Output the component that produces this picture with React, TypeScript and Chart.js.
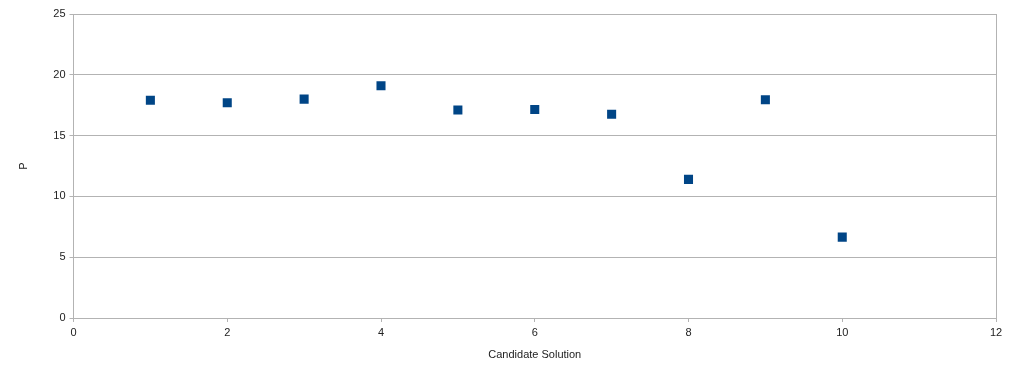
import React, { useEffect, useRef } from 'react';
import { Chart, registerables } from 'chart.js';

Chart.register(...registerables);

const candidates = [1, 2, 3, 4, 5, 6, 7, 8, 9, 10];
const pValues = [17.9, 17.7, 18.0, 19.1, 17.1, 17.15, 16.75, 11.4, 17.95, 6.65];
const xAxisRange = [0, 12];
const xStep = 2;
const yAxisRange = [0, 25];
const yStep = 5;
const xTitle = 'Candidate Solution';
const yTitle = 'P';

const GRID = '#b3b3b3';
const TEXT = '#222222';
const POINT = '#004586';
const FONT = 'Liberation Sans, Arial, sans-serif';

export default function App() {
  const canvasRef = useRef<HTMLCanvasElement | null>(null);

  useEffect(() => {
    document.body.style.margin = '0';
    const canvas = canvasRef.current;
    if (!canvas) return;
    const chart = new Chart(canvas, {
      type: 'scatter',
      data: {
        datasets: [
          {
            label: yTitle,
            data: candidates.map((c, i) => ({ x: c, y: pValues[i] })),
            pointStyle: 'rect',
            pointRadius: 6.4,
            pointHoverRadius: 6.4,
            pointBorderWidth: 0,
            backgroundColor: POINT,
            borderColor: POINT,
          },
        ],
      },
      options: {
        animation: false,
        responsive: true,
        maintainAspectRatio: false,
        layout: { padding: { top: 14, right: 27, left: 0, bottom: 0 } },
        plugins: {
          legend: { display: false },
          tooltip: { enabled: false },
        },
        scales: {
          x: {
            type: 'linear',
            min: xAxisRange[0],
            max: xAxisRange[1],
            ticks: {
              stepSize: xStep,
              color: TEXT,
              font: { family: FONT, size: 11 },
              padding: 4,
              maxRotation: 0,
            },
            grid: {
              color: (ctx: any) => (ctx.tick && ctx.tick.value === xAxisRange[1] ? GRID : 'rgba(0,0,0,0)'),
              tickColor: GRID,
              tickLength: 4,
              lineWidth: 1,
            },
            border: { display: true, color: GRID, width: 1 },
            title: {
              display: true,
              text: xTitle,
              color: TEXT,
              font: { family: FONT, size: 11 },
              padding: { top: 0, bottom: 17.4 },
            },
            afterFit: (scale: any) => {
              scale.height = 61;
            },
          },
          y: {
            type: 'linear',
            min: yAxisRange[0],
            max: yAxisRange[1],
            ticks: {
              stepSize: yStep,
              color: TEXT,
              font: { family: FONT, size: 11 },
              padding: 4,
            },
            grid: {
              color: GRID,
              tickColor: GRID,
              tickLength: 4,
              lineWidth: 1,
            },
            border: { display: true, color: GRID, width: 1 },
            title: {
              display: true,
              text: yTitle,
              color: TEXT,
              font: { family: FONT, size: 11 },
              padding: { top: 17, bottom: 0 },
            },
            afterFit: (scale: any) => {
              scale.width = 73.5;
            },
          },
        },
      },
    });
    return () => chart.destroy();
  }, []);

  return (
    <div style={{ position: 'relative', width: 1023, height: 379 }}>
      <canvas ref={canvasRef} />
    </div>
  );
}
